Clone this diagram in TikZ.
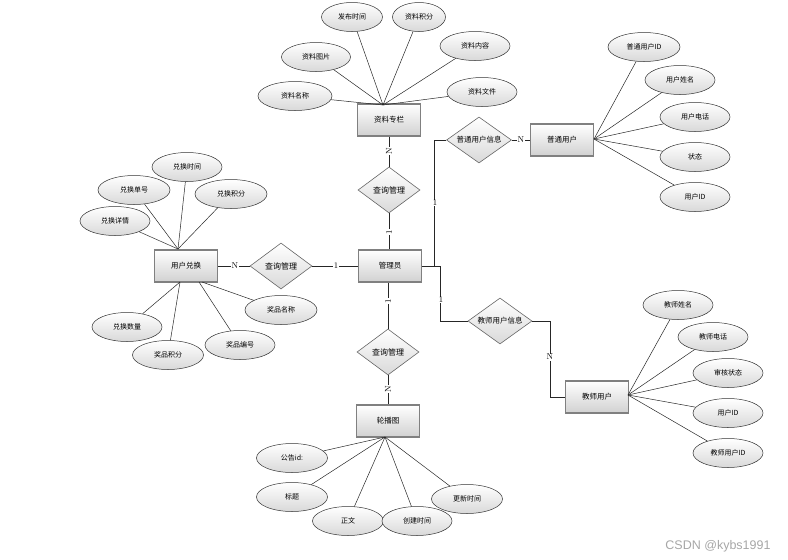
\documentclass[tikz,border=0pt]{standalone}
\usepackage{fontspec}
\newfontfamily\cjk{Noto Sans CJK SC}
\newfontfamily\wmfont{Liberation Sans}
\usetikzlibrary{shapes.geometric,calc}
\tikzset{
  ent/.style={draw=black!50, line width=1.2pt, top color=white, bottom color=black!18, minimum width=63pt, minimum height=32pt, inner sep=0pt, font=\cjk\fontsize{7.5}{9}\selectfont},
  attr/.style={draw=black!80, line width=0.5pt, ellipse, top color=white, bottom color=black!15, minimum height=29pt, inner sep=0pt, font=\cjk\fontsize{7}{8}\selectfont},
  rel/.style={draw=black!60, line width=0.6pt, diamond, aspect=1.35, top color=white, bottom color=black!15, inner sep=0pt, minimum width=62pt, minimum height=46pt, font=\cjk\fontsize{8}{9}\selectfont},
  ln/.style={line width=0.5pt, black!85},
  card/.style={font=\fontsize{8.5}{9}\selectfont, fill=white, inner sep=0.6pt}
}

\begin{document}
\begin{tikzpicture}[x=1pt, y=-1pt]
  \useasboundingbox (0,0) rectangle (788,560);
  % entities and relations
  \node[ent] (zl) at (389,120) {资料专栏};
  \node[ent] (gly) at (390,266) {管理员};
  \node[ent] (yhdh) at (186,266) {用户兑换};
  \node[ent] (pt) at (562,140) {普通用户};
  \node[ent] (js) at (597,397) {教师用户};
  \node[ent] (lbt) at (388,421) {轮播图};
  \node[rel] (cx1) at (389,190) {查询管理};
  \node[rel] (cx2) at (281,266) {查询管理};
  \node[rel] (cx3) at (388,352) {查询管理};
  \node[rel, minimum width=65pt, font=\cjk\fontsize{7.5}{9}\selectfont] (ptxx) at (479,140) {普通用户信息};
  \node[rel, minimum width=64pt, font=\cjk\fontsize{7.5}{9}\selectfont] (jsxx) at (500,321) {教师用户信息};

  % attributes
  \foreach \n/\x/\y/\w/\t in {zl1/352/17/61/发布时间, zl2/419/17/53/资料积分, zl3/316/57/69/资料图片, zl4/475/46/70/资料内容, zl5/295/96/74/资料名称, zl6/482/92/70/资料文件,
    dh1/187/167/70/兑换时间, dh2/134/190/72/兑换单号, dh3/231/194/72/兑换积分, dh4/115/221/70/兑换详情, dh5/127/327/70/兑换数量, dh6/168/355/71/奖品积分, dh7/240/345/70/奖品编号, dh8/281/310/72/奖品名称,
    pt1/644/47/72/普通用户ID, pt2/680/80/70/用户姓名, pt3/695/117/70/用户电话, pt4/695/157/70/状态, pt5/695/197/70/用户ID,
    js1/678/305/70/教师姓名, js2/713/337/70/教师电话, js3/728/373/70/审核状态, js4/728/413/70/用户ID, js5/728/453/70/教师用户ID,
    lb1/292/458/71/公告id:, lb2/292/497/71/标题, lb3/348/521/71/正文, lb4/417/521/70/创建时间, lb5/467/499/71/更新时间}
    \node[attr, minimum width=\w pt] (\n) at (\x,\y) {\t};

  \coordinate (zlc) at (383,105);
  \coordinate (dhtop) at (178,249);
  \coordinate (dhbl) at (180,282);
  \coordinate (dhbr) at (199,282);
  \coordinate (ptc) at (594,139);
  \coordinate (jsc) at (628,395);
  \coordinate (lbc) at (385,437);
  \foreach \n in {zl1,zl2,zl3,zl4,zl5,zl6} \draw[ln] (zlc) -- (\n);
  \foreach \n in {dh1,dh2,dh3,dh4} \draw[ln] (dhtop) -- (\n);
  \foreach \n in {dh5,dh6} \draw[ln] (dhbl) -- (\n);
  \draw[ln] (dhbr) -- (dh7);
  \draw[ln] ($(dhbr)+(3,0)$) -- (dh8);
  \foreach \n in {pt1,pt2,pt3,pt4,pt5} \draw[ln] (ptc) -- (\n);
  \foreach \n in {js1,js2,js3,js4,js5} \draw[ln] (jsc) -- (\n);
  \foreach \n in {lb1,lb2,lb3,lb4,lb5} \draw[ln] (lbc) -- (\n);

  % links
  \draw[ln] (zl.south) -- (cx1.north);
  \draw[ln] (cx1.south) -- (cx1.south |- gly.north);
  \draw[ln] (yhdh.east) -- (cx2.west);
  \draw[ln] (cx2.east) -- (gly.west);
  \draw[ln] (cx3.north |- gly.south) -- (cx3.north);
  \draw[ln] (cx3.south) -- (lbt.north -| cx3.south);
  \draw[ln] (gly.east) -- ++(12,0) |- (ptxx.west);
  \draw[ln] (gly.east) -- ++(18,0) |- (jsxx.west);
  \draw[ln] (ptxx.east) -- (pt.west);
  \draw[ln] (jsxx.east) -- ++(18,0) |- (js.west);

  \node[card, rotate=90] (c1) at (389,151) {N};
  \node[card, rotate=90] (c2) at (389,232) {1};
  \node[card] (c3) at (235,266) {N};
  \node[card] (c4) at (336,266) {1};
  \node[card] (c5) at (435,203) {1};
  \node[card] (c6) at (441,300) {1};
  \node[card] (c7) at (521,140) {N};
  \node[card] (c8) at (550,357) {N};
  \node[card, rotate=90] (c9) at (388,301) {1};
  \node[card, rotate=90] (c10) at (388,389) {N};

  \node[font=\wmfont\fontsize{12.5}{14}\selectfont, text=black!35] (wm) at (718,546) {CSDN @kybs1991};
\end{tikzpicture}
\end{document}
